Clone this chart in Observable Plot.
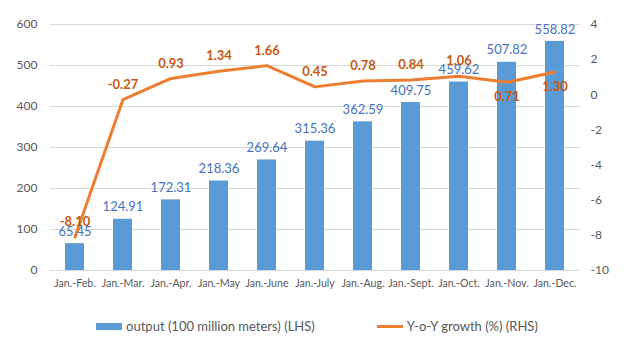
<!DOCTYPE html>
<html><head><meta charset="utf-8">
<script src="https://cdn.jsdelivr.net/npm/d3@7"></script>
<script src="https://cdn.jsdelivr.net/npm/@observablehq/plot@0.6"></script>
<style>
body{margin:0;background:#fff;font-family:Lato,"Open Sans",sans-serif;}
#wrap{width:634px;}
.legend{display:flex;justify-content:center;align-items:center;gap:0;margin-top:16px;font-size:13px;color:#595959;height:20px;}
.sw{display:inline-block;margin-right:4px;}
</style></head><body>
<div id="wrap"></div>
<script>
const categories = ["Jan.-Feb.","Jan.-Mar.","Jan.-Apr.","Jan.-May","Jan.-June","Jan.-July","Jan.-Aug.","Jan.-Sept.","Jan.-Oct.","Jan.-Nov.","Jan.-Dec."];
const output = [65.45,124.91,172.31,218.36,269.64,315.36,362.59,409.75,459.62,507.82,558.82];
const growth = [-8.10,-0.27,0.93,1.34,1.66,0.45,0.78,0.84,1.06,0.71,1.30];
const growthLabelBelow = [false,false,false,false,false,false,false,false,false,true,true];
const leftTicks = [0,100,200,300,400,500,600];
const rightTicks = [-10,-8,-6,-4,-2,0,2,4];

const L = [0,600], R = [-10,4];
const toLeft = v => (v - R[0]) / (R[1]-R[0]) * (L[1]-L[0]) + L[0];
const toRight = v => (v - L[0]) / (L[1]-L[0]) * (R[1]-R[0]) + R[0];

const bars = categories.map((c,i)=>({c, v: output[i]}));
const line = categories.map((c,i)=>({c, g: growth[i], y: toLeft(growth[i]), below: growthLabelBelow[i]}));

const chart = Plot.plot({
  width: 634, height: 300,
  marginTop: 24, marginBottom: 30, marginLeft: 50, marginRight: 54,
  style: {fontFamily: "Lato, 'Open Sans', sans-serif", fontSize: "12px", color: "#595959"},
  x: {domain: categories, paddingInner: 0.6, paddingOuter: 0.3, label: null},
  y: {domain: L, label: null},
  marks: [
    Plot.gridY(leftTicks, {stroke: "#D9D9D9", strokeOpacity: 1}),
    Plot.axisY(leftTicks, {anchor: "left", tickSize: 0, tickPadding: 13, label: null, fontSize: 12}),
    Plot.axisY(rightTicks.map(toLeft), {anchor: "right", tickSize: 0, tickPadding: 10, label: null, textAnchor: "start", tickFormat: d => String(Math.round(toRight(d))), fontSize: 12}),
    Plot.axisX({tickSize: 0, tickPadding: 9, label: null, fontSize: 10.6}),
    Plot.barY(bars, {x: "c", y: "v", fill: "#5B9BD5"}),
    Plot.text(bars, {x: "c", y: "v", text: d => d.v.toFixed(2), dy: -12, fill: "#4472C4", fontSize: 13}),
    Plot.line(line, {x: "c", y: "y", stroke: "#ED7D31", strokeWidth: 3, curve: "linear"}),
    Plot.text(line.filter(d=>!d.below), {x: "c", y: "y", text: d => d.g.toFixed(2), dy: -15, fill: "#C55A11", fontSize: 13, fontWeight: "bold"}),
    Plot.text(line.filter(d=>d.below), {x: "c", y: "y", text: d => d.g.toFixed(2), dy: 15, fill: "#C55A11", fontSize: 13, fontWeight: "bold"})
  ]
});
document.getElementById("wrap").appendChild(chart);

const legend = document.createElement("div");
legend.className = "legend";
legend.innerHTML = `<span class="sw" style="width:26px;height:7px;background:#5B9BD5"></span><span>output (100 million meters) (LHS)</span>
<span style="display:inline-block;width:62px"></span>
<span class="sw" style="width:26px;height:3px;background:#ED7D31"></span><span>Y-o-Y growth (%) (RHS)</span>`;
document.getElementById("wrap").appendChild(legend);
</script>
</body></html>
